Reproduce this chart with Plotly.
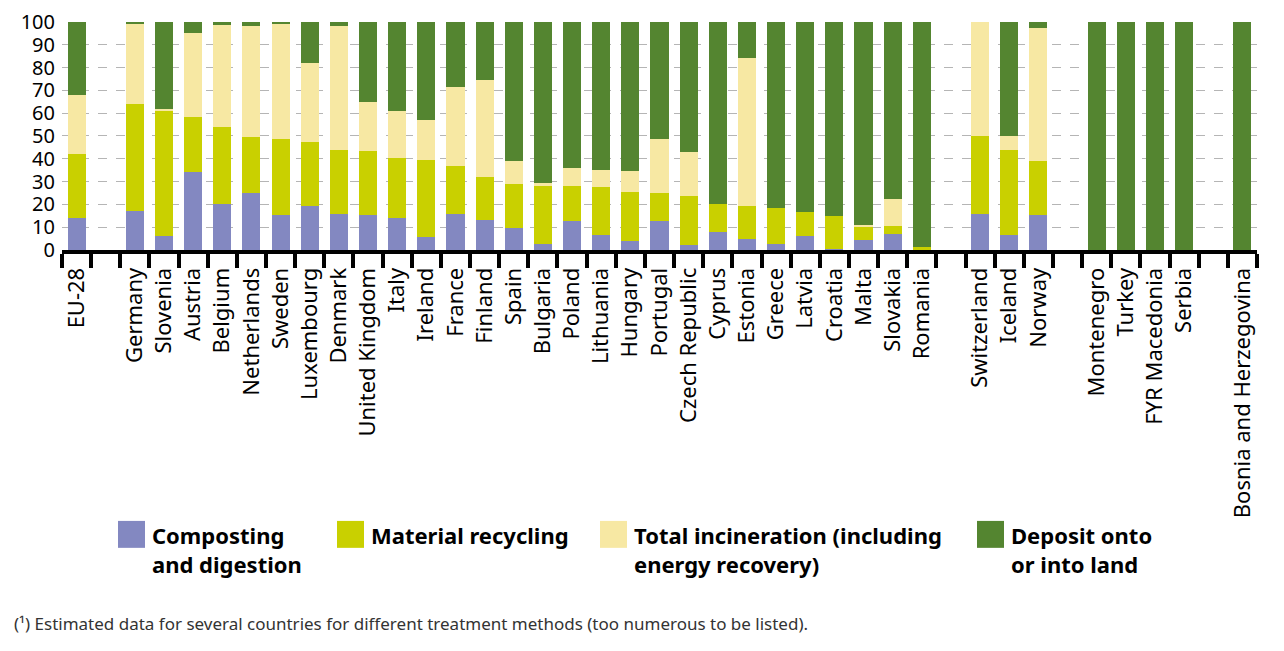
import plotly.graph_objects as go

# ---- data ----
group_eu = ["EU-28"]
group_ms = ["Germany", "Slovenia", "Austria", "Belgium", "Netherlands", "Sweden",
            "Luxembourg", "Denmark", "United Kingdom", "Italy", "Ireland", "France",
            "Finland", "Spain", "Bulgaria", "Poland", "Lithuania", "Hungary", "Portugal",
            "Czech Republic", "Cyprus", "Estonia", "Greece", "Latvia", "Croatia",
            "Malta", "Slovakia", "Romania"]
group_efta = ["Switzerland", "Iceland", "Norway"]
group_cand = ["Montenegro", "Turkey", "FYR Macedonia", "Serbia"]
group_bh = ["Bosnia and Herzegovina"]

composting = [14,
              17, 6, 34, 20, 25, 15.5, 19.5, 16, 15.5, 14, 5.5, 16, 13, 9.5, 2.5, 12.5,
              6.5, 4, 12.5, 2, 8, 5, 2.5, 6, 0.5, 4.5, 7, 0,
              16, 6.5, 15.5,
              0, 0, 0, 0,
              0]
recycling = [28,
             47, 55, 24.5, 34, 24.5, 33, 28, 28, 28, 26.5, 34, 21, 19, 19.5, 25.5, 15.5,
             21, 21.5, 12.5, 21.5, 12, 14.5, 16, 10.5, 14.5, 6, 3.5, 1.5,
             34, 37.5, 23.5,
             0, 0, 0, 0,
             0]
incineration = [26,
                35, 1, 36.5, 44.5, 48.5, 50.5, 34.5, 54, 21.5, 20.5, 17.5, 34.5, 42.5, 10,
                1.5, 8, 7.5, 9, 23.5, 19.5, 0, 64.5, 0, 0, 0, 0.5, 12, 0,
                50, 6, 58.5,
                0, 0, 0, 0,
                0]
deposit = [32,
           1, 38, 5, 1.5, 2, 1, 18, 2, 35, 39, 43, 28.5, 25.5, 61, 70.5, 64, 65, 65.5,
           51.5, 57, 80, 16, 81.5, 83.5, 85, 89, 77.5, 98.5,
           0, 50, 2.5,
           100, 100, 100, 100,
           100]

series_names = ["Composting<br>and digestion", "Material recycling",
                "Total incineration (including<br>energy recovery)",
                "Deposit onto<br>or into land"]
series_colors = ["#8388C1", "#C9D000", "#F7E8A3", "#548530"]
y_ticks = list(range(0, 101, 10))
footnote = "(¹) Estimated data for several countries for different treatment methods (too numerous to be listed)."

# ---- positions: one empty slot between groups ----
groups = [group_eu, group_ms, group_efta, group_cand, group_bh]
labels, xpos = [], []
slot = 0
for g in groups:
    for c in g:
        labels.append(c)
        xpos.append(slot)
        slot += 1
    slot += 1
n_slots = slot - 1  # last gap not used

# page offset of the figure (default body margin)
OFF = 8
W, H = 1284 - OFF, 651 - OFF
# plot area in page pixels
L, R, T, B = 62, 1257, 21, 250.5

fig = go.Figure()
for name, vals, col in zip(series_names, [composting, recycling, incineration, deposit], series_colors):
    fig.add_trace(go.Bar(x=xpos, y=vals, name=name.replace("<br>", " "),
                         marker=dict(color=col, line=dict(width=0)),
                         width=0.62, showlegend=False))

FONT = "Noto Sans"
fig.update_layout(
    width=W, height=H, barmode="stack",
    margin=dict(l=L - OFF, r=1284 - R, t=T - OFF, b=651 - B, pad=0, autoexpand=False),
    paper_bgcolor="white", plot_bgcolor="white",
    font=dict(family=FONT, color="#000000"),
    bargap=0,
)
fig.update_xaxes(
    automargin=False,
    range=[-0.5, n_slots - 0.5],
    tickmode="array", tickvals=xpos, ticktext=labels, tickangle=-90,
    ticks="outside", ticklen=5, tickcolor="rgba(0,0,0,0)", tickwidth=1,
    tickfont=dict(family=FONT, size=22, color="#000000"),
    showline=True, linecolor="#000000", linewidth=4,
    showgrid=False, zeroline=False,
    minor=dict(tickmode="array", tickvals=[i - 0.5 for i in range(n_slots + 1)],
               ticks="outside", ticklen=14, tickwidth=4, tickcolor="#000000", showgrid=False),
)
fig.update_yaxes(
    automargin=False,
    range=[0, 100.4], tickmode="array", tickvals=y_ticks,
    ticks="outside", ticklen=2, tickcolor="rgba(0,0,0,0)",
    ticklabeloverflow="allow",
    tickfont=dict(family=FONT, size=20, color="#000000"),
    showgrid=True, gridcolor="#B5B5B5", gridwidth=1, griddash="dash",
    zeroline=False, showline=False,
)

def px(xp):
    return (xp - L) / (R - L)

def py(yp):
    return (B - yp) / (B - T)

legend_x = [118, 337, 600, 977]
for xs, name, col in zip(legend_x, series_names, series_colors):
    fig.add_shape(type="rect", xref="paper", yref="paper",
                  x0=px(xs), x1=px(xs + 27), y0=py(549), y1=py(522),
                  fillcolor=col, line=dict(width=0))
    fig.add_annotation(xref="paper", yref="paper", x=px(xs + 32), y=py(519),
                       xanchor="left", yanchor="top", align="left", showarrow=False,
                       text="<b>" + name + "</b>",
                       font=dict(family=FONT, size=22, color="#000000"))

fig.add_annotation(xref="paper", yref="paper", x=px(12), y=py(625),
                   xanchor="left", yanchor="middle", showarrow=False, text=footnote,
                   font=dict(family=FONT, size=17, color="#333333"))

fig.write_html("out.html")
